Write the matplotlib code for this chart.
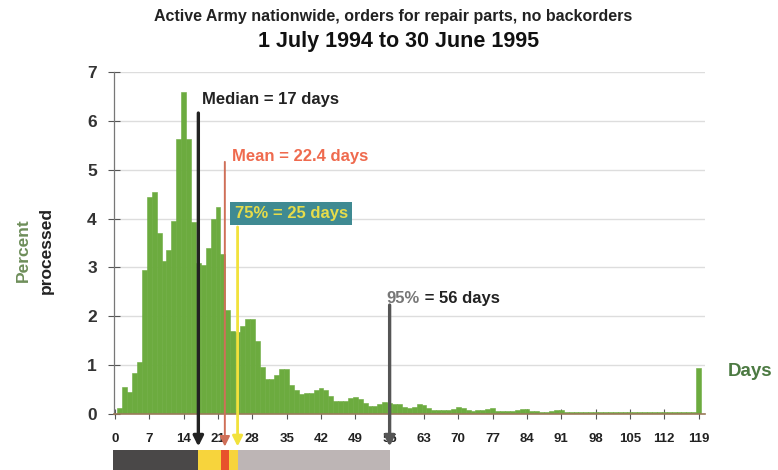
import matplotlib.pyplot as plt
from matplotlib.transforms import blended_transform_factory

# percent of orders processed, by days (1..119, last bin = 119+)
days = list(range(1, 120))
percent = [
    0.12, 0.56, 0.46, 0.83, 1.07, 2.94, 4.45, 4.55, 3.70, 3.14,
    3.35, 3.96, 5.63, 6.60, 5.63, 3.92, 3.10, 3.05, 3.40, 4.00,
    4.23, 3.28, 2.12, 1.70, 1.68, 1.80, 1.95, 1.95, 1.50, 0.97,
    0.72, 0.72, 0.79, 0.92, 0.92, 0.60, 0.50, 0.40, 0.42, 0.43,
    0.50, 0.53, 0.50, 0.36, 0.27, 0.26, 0.26, 0.33, 0.34, 0.30,
    0.22, 0.17, 0.17, 0.20, 0.24, 0.22, 0.20, 0.20, 0.14, 0.13,
    0.15, 0.20, 0.19, 0.12, 0.09, 0.08, 0.08, 0.09, 0.10, 0.15,
    0.12, 0.08, 0.07, 0.08, 0.09, 0.11, 0.12, 0.07, 0.06, 0.06,
    0.07, 0.08, 0.10, 0.10, 0.06, 0.06, 0.05, 0.05, 0.06, 0.08,
    0.08, 0.05, 0.05, 0.04, 0.05, 0.05, 0.04, 0.04, 0.05, 0.05,
    0.04, 0.04, 0.05, 0.04, 0.04, 0.04, 0.05, 0.04, 0.04, 0.04,
    0.04, 0.04, 0.04, 0.04, 0.04, 0.04, 0.04, 0.04, 0.95,
]
x_ticks = list(range(0, 120, 7))
y_ticks = [0, 1, 2, 3, 4, 5, 6, 7]

median_days = 17
mean_days = 22.4
p75_days = 25
p95_days = 56

GREEN = "#6cab3f"
BOLD = ["Liberation Sans", "DejaVu Sans"]
NARROW = ["Liberation Sans Narrow", "Liberation Sans", "DejaVu Sans"]

fig = plt.figure(figsize=(7.78, 4.70), dpi=100)
ax = fig.add_axes([113.5 / 778, 56 / 470, 591 / 778, 342 / 470])

ax.bar(days, percent, width=1.0, color=GREEN, edgecolor=GREEN, linewidth=0.4, zorder=2)

ax.set_xlim(-0.3, 120.2)
ax.set_ylim(0, 7)
ax.set_xticks(x_ticks)
ax.set_yticks(y_ticks)
ax.set_xticklabels([str(t) for t in x_ticks], fontsize=9.5, fontweight="bold",
                   family=BOLD, color="#222222")
ax.set_yticklabels([str(t) for t in y_ticks], fontsize=12.5, fontweight="bold",
                   family=BOLD, color="#333333")
ax.tick_params(axis="x", direction="inout", length=7, width=0.8, color="#555555", pad=10)
ax.tick_params(axis="y", direction="inout", length=8, width=0.8, color="#555555", pad=8)
ax.yaxis.grid(True, color="#dddddd", linewidth=1.0, zorder=0)
ax.set_axisbelow(True)
for side in ("top", "right"):
    ax.spines[side].set_visible(False)
ax.spines["left"].set_color("#777777")
ax.spines["left"].set_linewidth(0.9)
ax.spines["bottom"].set_color("#9a7a5a")
ax.spines["bottom"].set_linewidth(1.2)

# marker lines with arrows going below the axis
mixed = blended_transform_factory(ax.transData, ax.transAxes)
markers = [
    (median_days, 6.16, "#222222", 2.4),
    (mean_days, 5.16, "#cf6f58", 1.4),
    (p75_days, 3.83, "#f2e23c", 2.0),
    (p95_days, 2.23, "#555555", 2.4),
]
for xpos, top, color, lw in markers:
    ax.annotate("", xy=(xpos, -0.095), xycoords=mixed, xytext=(xpos, top),
                textcoords="data",
                arrowprops=dict(arrowstyle="-|>", color=color, lw=lw,
                                mutation_scale=15, shrinkA=0, shrinkB=0),
                annotation_clip=False, zorder=5)

ax.text(17.8, 6.43, "Median = 17 days", fontsize=12, fontweight="bold",
        family=BOLD, color="#222222", va="center", ha="left")
ax.text(23.8, 5.28, "Mean = 22.4 days", fontsize=12, fontweight="bold",
        family=BOLD, color="#ef6a4e", va="center", ha="left")
ax.text(24.4, 4.11, "75% = 25 days", fontsize=12, fontweight="bold",
        family=BOLD, color="#e6dc4a", va="center", ha="left",
        bbox=dict(boxstyle="square,pad=0.25", facecolor="#3f8a92", edgecolor="none"))
p95_label = ax.text(55.4, 2.37, "95%", fontsize=12, fontweight="bold",
                    family=BOLD, color="#777777", va="center", ha="left")
ax.annotate(" = 56 days", xy=(1, 0.5), xycoords=p95_label, fontsize=12,
            fontweight="bold", family=BOLD, color="#222222", va="center", ha="left")

# coloured summary strip under the tick labels
strip_y, strip_h = -0.164, 0.058
segments = [
    (-0.4, median_days, "#4a4848"),
    (median_days, p75_days, "#f7d43c"),
    (p75_days, p95_days, "#bdb5b5"),
    (mean_days - 0.7, mean_days + 0.9, "#e8522c"),
]
for x0, x1, color in segments:
    ax.broken_barh([(x0, x1 - x0)], (strip_y, strip_h), transform=mixed,
                   facecolors=color, clip_on=False, zorder=1)

fig.text(393 / 778, 1 - 17 / 470, "Active Army nationwide, orders for repair parts, no backorders",
         ha="center", va="center", fontsize=11.5, fontweight="bold", family=NARROW, color="#222222")
fig.text(399 / 778, 1 - 42 / 470, "1 July 1994 to 30 June 1995",
         ha="center", va="center", fontsize=15.5, fontweight="bold", family=NARROW, color="#111111")

fig.text(23 / 778, 1 - 250 / 470, "Percent", rotation=90, ha="center", va="center",
         fontsize=12.5, fontweight="bold", family=BOLD, color="#6e8e5a")
fig.text(46 / 778, 1 - 250 / 470, "processed", rotation=90, ha="center", va="center",
         fontsize=12.5, fontweight="bold", family=BOLD, color="#222222")
fig.text(750 / 778, 1 - 371 / 470, "Days", ha="center", va="center",
         fontsize=13.5, fontweight="bold", family=BOLD, color="#4c7a42")

fig.savefig("out.png", dpi=100)
plt.close(fig)
